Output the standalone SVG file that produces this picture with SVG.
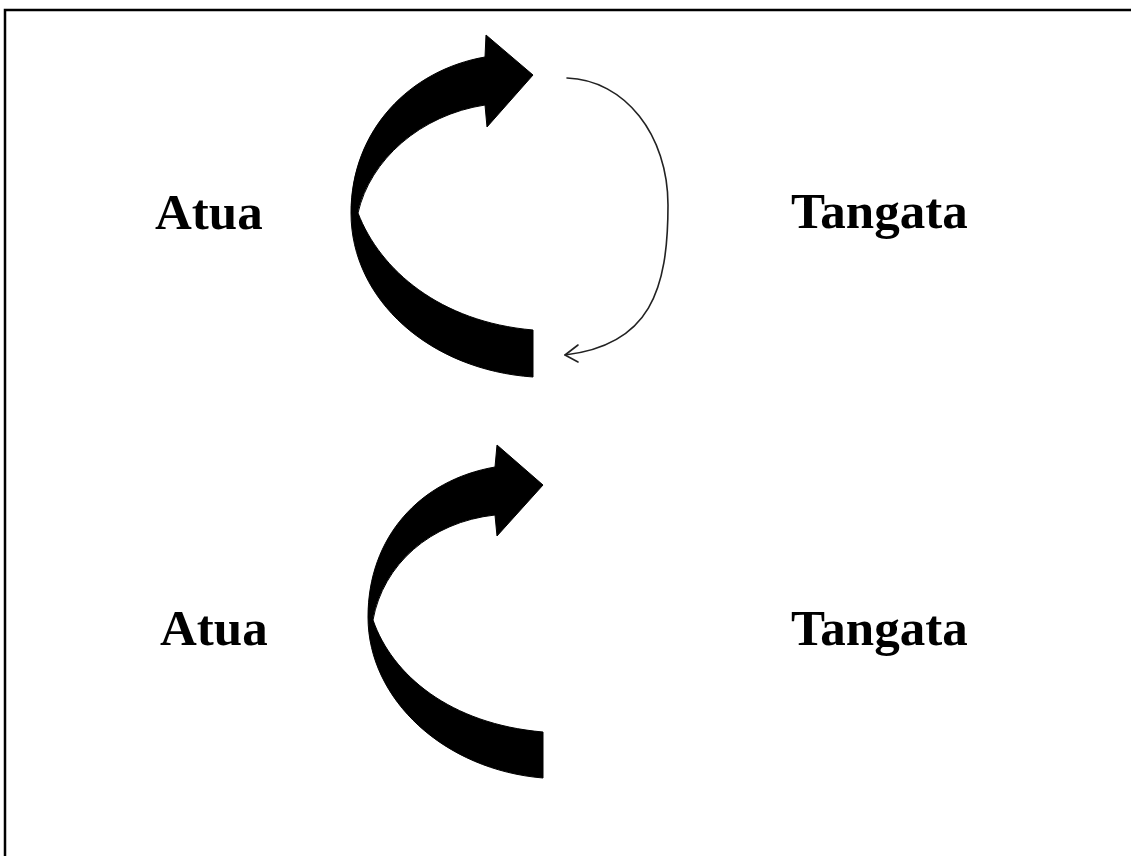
<svg xmlns="http://www.w3.org/2000/svg" width="1131" height="856" viewBox="0 0 1131 856">
<style>
.lbl{font-family:"Liberation Serif","Times New Roman",serif;font-weight:bold;font-size:51px;fill:#000}
.big{fill:#000;stroke:#000;stroke-width:1;stroke-linejoin:round}
.thin{fill:none;stroke:#222;stroke-width:1.6;stroke-linecap:round;stroke-linejoin:round}
</style>
<rect x="5" y="10" width="1140" height="860" fill="#fff" stroke="#000" stroke-width="2.5"/>
<g id="atua-top"><text class="lbl" x="155" y="229">Atua</text></g>
<g id="tangata-top"><text class="lbl" x="791" y="228">Tangata</text></g>
<g id="atua-bottom"><text class="lbl" x="160" y="645">Atua</text></g>
<g id="tangata-bottom"><text class="lbl" x="791" y="645">Tangata</text></g>
<g id="connectors">
<path class="big" d="M533,377 L533,330 C440,322 380,270 358,213 C370,160 420,115 485,105 L487,127 L533,75 L486,35 L485,57 C410,70 351,130 351,213 C351,300 430,370 533,377 Z"/>
<path class="thin" d="M567,78 C625,80 668,135 668,205 C668,290 650,345 565,355"/>
<path class="thin" d="M578,345 L565,355 L578,362"/>
<path class="big" d="M543,778 L543,732 C450,724 392,675 373,620 C383,565 430,522 495,515 L497,536 L543,485 L497,445 L495,467 C420,480 368,537 368,617 C368,700 445,770 543,778 Z"/>
</g>
</svg>
